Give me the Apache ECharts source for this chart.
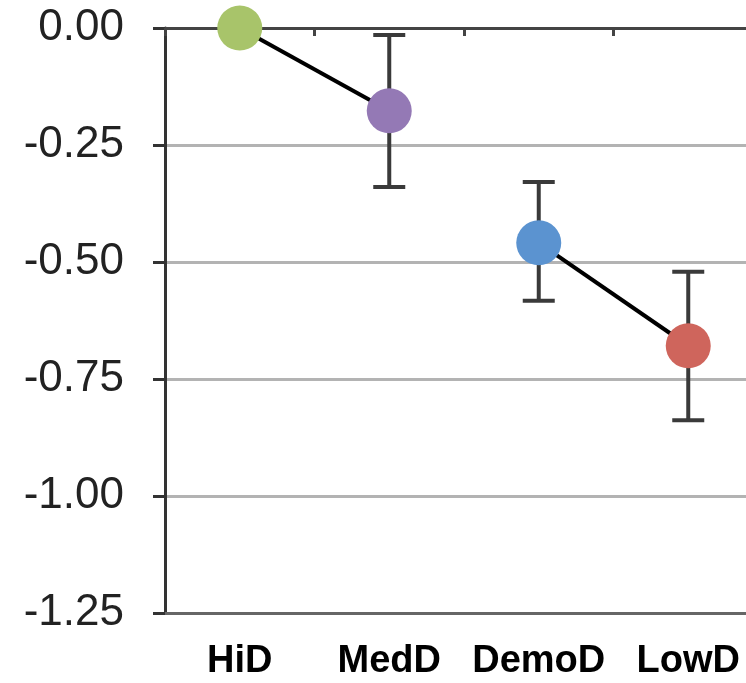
<!DOCTYPE html>
<html>
<head>
<meta charset="utf-8">
<script src="https://cdn.jsdelivr.net/npm/echarts@6/dist/echarts.min.js"></script>
<style>
  html, body { margin: 0; padding: 0; background: #fff; overflow: hidden; }
  /* plot area runs past the right edge in the original, so the canvas is wider than the window */
  #chart { width: 763px; height: 683px; }
</style>
</head>
<body>
<div id="chart"></div>
<script>
const categories = ['HiD', 'MedD', 'DemoD', 'LowD']
const means = [0.0, -0.177, -0.459, -0.679]
const errLow = [null, -0.34, -0.583, -0.838]
const errHigh = [null, -0.015, -0.329, -0.521]
const pointColors = ['#a8c46a', '#9479b5', '#5b93d0', '#cf655c']
// segments drawn between pairs of points
const segmentA = [means[0], means[1], null, null]
const segmentB = [null, null, means[2], means[3]]

const chart = echarts.init(document.getElementById('chart'))

const fontFamily = '"Liberation Sans", Arial, sans-serif'

const errorData = categories.map((c, i) => [i, errLow[i], errHigh[i]]).filter(d => d[1] !== null)

const option = {
  animation: false,
  grid: { left: 165, right: 0, top: 28, bottom: 70 },
  xAxis: [
    {
      type: 'category',
      data: categories,
      axisLine: { onZero: true, lineStyle: { color: '#444', width: 3 } },
      axisTick: { show: true, interval: 0, length: 8, lineStyle: { color: '#444', width: 3 } },
      axisLabel: { show: false },
      splitLine: { show: false }
    },
    {
      type: 'category',
      data: categories,
      position: 'bottom',
      offset: 0,
      axisLine: { onZero: false, lineStyle: { color: '#666', width: 3 } },
      axisTick: { show: false },
      axisLabel: {
        interval: 0,
        margin: 30,
        color: '#000',
        fontSize: 38,
        fontWeight: 'bold',
        fontFamily: fontFamily
      }
    }
  ],
  yAxis: {
    type: 'value',
    min: -1.25,
    max: 0,
    interval: 0.25,
    axisLine: { show: true, lineStyle: { color: '#333', width: 3 } },
    axisTick: { show: true, length: 12, lineStyle: { color: '#333', width: 3 } },
    axisLabel: {
      margin: 41,
      color: '#222',
      fontSize: 44,
      fontFamily: fontFamily,
      formatter: v => v.toFixed(2)
    },
    splitLine: { show: true, lineStyle: { color: '#b3b3b3', width: 3 } }
  },
  series: [
    {
      type: 'custom',
      xAxisIndex: 0,
      z: 2,
      renderItem: (params, api) => {
        const x = api.value(0)
        const lo = api.coord([x, api.value(1)])
        const hi = api.coord([x, api.value(2)])
        const half = 16
        const style = { stroke: '#3a3a3a', lineWidth: 4 }
        return {
          type: 'group',
          children: [
            { type: 'line', shape: { x1: lo[0], y1: lo[1], x2: hi[0], y2: hi[1] }, style },
            { type: 'line', shape: { x1: lo[0] - half, y1: lo[1], x2: lo[0] + half, y2: lo[1] }, style },
            { type: 'line', shape: { x1: hi[0] - half, y1: hi[1], x2: hi[0] + half, y2: hi[1] }, style }
          ]
        }
      },
      encode: { x: 0, y: [1, 2] },
      data: errorData
    },
    {
      type: 'line',
      data: segmentA,
      z: 3,
      symbol: 'none',
      connectNulls: false,
      lineStyle: { color: '#000', width: 4 }
    },
    {
      type: 'line',
      data: segmentB,
      z: 3,
      symbol: 'none',
      connectNulls: false,
      lineStyle: { color: '#000', width: 4 }
    },
    {
      type: 'scatter',
      z: 5,
      symbolSize: 45,
      itemStyle: { opacity: 1 },
      data: means.map((v, i) => ({ value: v, itemStyle: { color: pointColors[i], opacity: 1 } }))
    }
  ]
}

chart.setOption(option)
</script>
</body>
</html>
